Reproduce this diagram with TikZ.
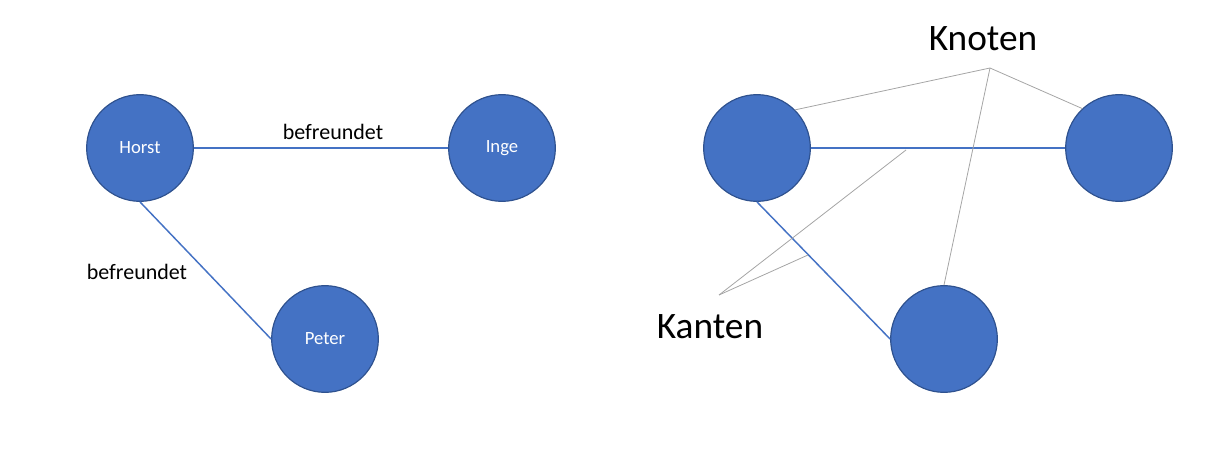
\documentclass[tikz,border=0pt]{standalone}
\usepackage{fontspec}
\setmainfont{Carlito}
\definecolor{knotBlue}{HTML}{4472C4}
\definecolor{knotRim}{HTML}{2F528F}
\definecolor{hintGray}{HTML}{A5A5A5}
\usetikzlibrary{positioning}

\begin{document}
\begin{tikzpicture}[x=0.75pt, y=-0.75pt,
    knot/.style={circle, fill=knotBlue, draw=knotRim, line width=0.9pt,
      minimum size=80pt, inner sep=0pt, text=white, font=\fontsize{14}{16}\selectfont},
    edge/.style={knotBlue, line width=1.1pt},
    hint/.style={hintGray, line width=0.6pt},
    rel/.style={inner sep=0pt, font=\fontsize{16.5}{19}\selectfont},
    title/.style={inner sep=0pt, font=\fontsize{28}{32}\selectfont}]
  \useasboundingbox (0,0) rectangle (1215,449);

  % left graph with names
  \node[knot] (horst) at (140,148) {Horst};
  \node[knot] (inge)  at (502,148) {Inge};
  \node[knot] (peter) at (325,339) {Peter};
  \draw[edge] (horst.east) -- (inge.west);
  \draw[edge] (horst.south) -- (peter.west);
  \node[rel] (relA) at (333,132) {befreundet};
  \node[rel] (relB) at (137,272) {befreundet};

  % right graph, plain
  \node[knot] (k1) at (757,148) {};
  \node[knot] (k2) at (1119,148) {};
  \node[knot] (k3) at (944,339) {};
  \draw[edge] (k1.east) -- (k2.west);
  \draw[edge] (k1.south) -- (k3.west);

  % pointers
  \node[title] (knoten) at (983,39) {Knoten};
  \node[title] (kanten) at (710,327) {Kanten};
  \coordinate (knotenTip) at (990,68);
  \coordinate (kantenTip) at (719,295);
  \coordinate (kantenA) at (906,150);
  \coordinate (kantenB) at (808,255);
  \draw[hint] (knotenTip) -- (k1.45);
  \draw[hint] (knotenTip) -- (k2.133);
  \draw[hint] (knotenTip) -- (k3.north);
  \draw[hint] (kantenTip) -- (kantenA);
  \draw[hint] (kantenTip) -- (kantenB);
\end{tikzpicture}
\end{document}
